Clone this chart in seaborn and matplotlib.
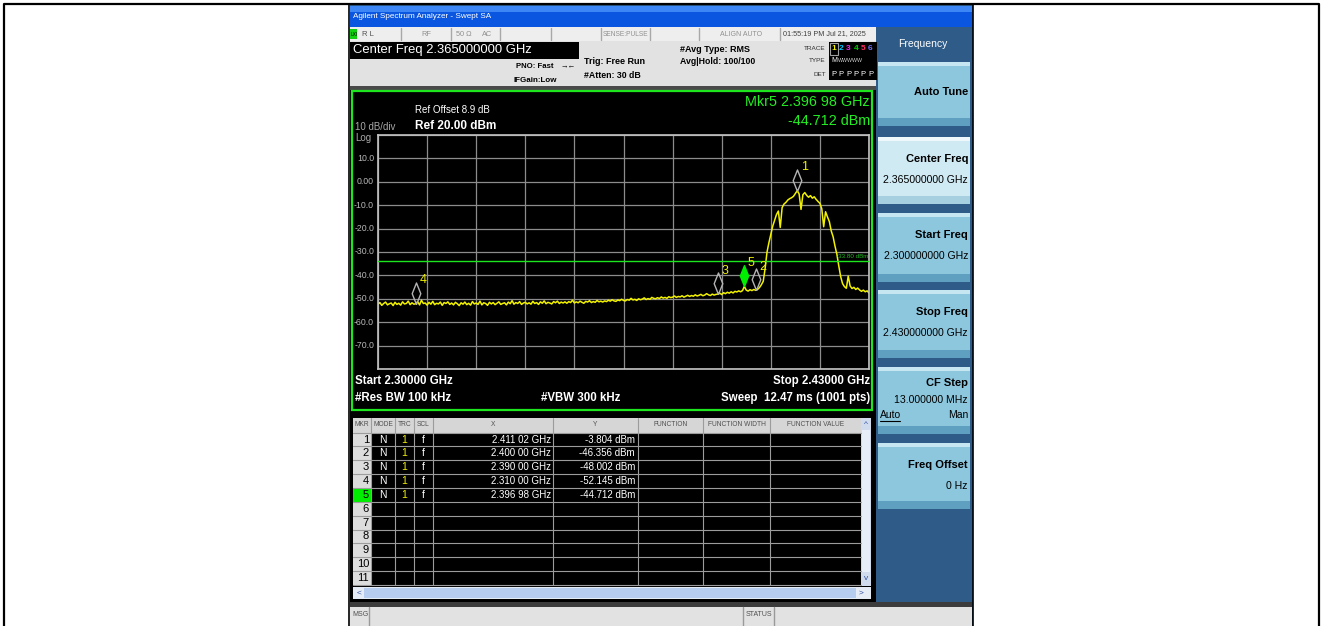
import numpy as np
import matplotlib.pyplot as plt
import seaborn as sns
from matplotlib.patches import Rectangle
from matplotlib.lines import Line2D

sns.set_style("dark")
plt.rcParams['font.family'] = ['Liberation Sans Narrow', 'Liberation Sans', 'DejaVu Sans']

W, H = 1325, 626

# =========================================================
# DATOS DEL BARRIDO
# =========================================================
f_start, f_stop = 2.300, 2.430      # GHz
ref_level = 20.0                    # dBm
db_div = 10.0
display_line = -33.80               # dBm

# traza (pasos de 0.5 MHz)
trace_dbm = [
    -52.3, -51.6, -52.8, -52.0, -51.4, -52.6, -52.1, -51.8, -52.9, -51.5, -52.4, -51.9, -52.7, -51.3, -52.2, -52.0, -51.0, -52.5, -51.7, -52.3,
    -52.1, -51.2, -52.6, -50.6, -52.0, -51.8, -52.7, -51.5, -52.3, -51.1, -52.5, -51.9, -52.2, -51.4, -52.8, -51.6, -52.0, -51.3, -52.4, -51.8,
    -52.6, -51.5, -52.1, -52.9, -51.7, -52.3, -51.4, -52.5, -51.9, -52.7, -51.2, -52.2, -51.8, -52.4, -51.0, -52.6, -51.7, -52.0, -52.8, -51.5,
    -52.2, -51.6, -52.5, -51.9, -51.3, -52.4, -52.0, -51.7, -52.6, -51.4, -52.1, -50.8, -52.3, -51.6, -52.0, -51.2, -52.4, -51.8, -51.5, -52.2,
    -51.7, -52.3, -51.1, -52.0, -51.6, -52.4, -51.3, -51.9, -50.9, -52.1, -51.5, -51.8, -52.2, -51.2, -51.7, -51.0, -52.0, -51.4, -51.8, -51.3,
    -51.9, -51.2, -51.6, -50.6, -51.8, -51.3, -51.7, -51.0, -51.5, -51.9, -51.1, -51.4, -50.8, -51.6, -51.2, -51.5, -50.7, -51.3, -51.0, -51.4,
    -50.9, -51.2, -50.6, -51.0, -50.4, -50.9, -51.1, -50.5, -50.8, -50.2, -50.7, -50.9, -50.3, -50.6, -49.8, -50.5, -50.2, -50.7, -50.0, -50.4,
    -50.1, -49.6, -50.3, -49.9, -50.2, -49.4, -49.8, -50.0, -49.5, -49.9, -49.2, -49.7, -49.4, -49.8, -49.1, -49.5, -49.3, -48.8, -49.4, -49.0,
    -49.2, -48.7, -49.3, -48.9, -48.5, -49.0, -48.6, -48.9, -48.3, -48.8, -48.5, -48.1, -48.7, -48.4, -47.8, -48.3, -48.6, -48.0, -48.4, -48.1,
    -48.0, -47.6, -48.2, -47.4, -47.8, -47.2, -47.6, -47.0, -47.5, -46.8, -47.1, -46.6, -47.0, -46.5, -44.7, -46.3, -46.7, -46.1, -46.5, -46.0,
    -46.4, -46.0, -45.2, -44.0, -42.5, -37.0, -30.0, -26.0, -22.5, -19.0, -16.5, -14.0, -12.5, -19.5, -11.0, -9.5, -8.8, -7.8, -7.2, -6.8,
    -6.2, -5.0, -3.8, -5.2, -11.8, -5.5, -4.6, -5.8, -6.6, -5.9, -7.0, -6.4, -7.5, -8.4, -9.2, -11.5, -19.2, -12.8, -15.0, -17.0,
    -21.0, -23.5, -27.5, -31.0, -36.0, -40.5, -43.5, -44.8, -45.5, -40.3, -44.5, -45.6, -45.1, -46.0, -45.4, -46.2, -46.8, -46.3, -47.0, -46.6,
    -47.5,
]

# marcadores
mkr_num = [1, 2, 3, 4, 5]
mkr_freq = [2.41102, 2.40000, 2.39000, 2.31000, 2.39698]   # GHz
mkr_dbm = [-3.804, -46.356, -48.002, -52.145, -44.712]
mkr_activo = 5

ytick_vals = [10, 0, -10, -20, -30, -40, -50, -60, -70]
ytick_txt = ['10.0', '0.00', '-10.0', '-20.0', '-30.0', '-40.0', '-50.0', '-60.0', '-70.0']

softkeys = [('Auto Tune', None), ('Center Freq', '2.365000000 GHz'), ('Start Freq', '2.300000000 GHz'),
            ('Stop Freq', '2.430000000 GHz'), ('CF Step', '13.000000 MHz'), ('Freq Offset', '0 Hz')]
softkey_y = [(62, 126), (137, 204), (213, 282), (290, 358), (367, 434), (443, 509)]


def fmt_ghz(f):
    s = f"{f:.5f}"
    return s[:5] + ' ' + s[5:]


fig = plt.figure(figsize=(W / 100, H / 100), dpi=100)
fig.patch.set_facecolor('white')


def px_rect(x0, y0, x1, y1, fc, ec='none', lw=0, z=1):
    fig.add_artist(Rectangle((x0 / W, 1 - y1 / H), (x1 - x0) / W, (y1 - y0) / H, transform=fig.transFigure,
                             facecolor=fc, edgecolor=ec, linewidth=lw, zorder=z))


def px_line(xs, ys, color, lw=1.0, z=2):
    fig.add_artist(Line2D([x / W for x in xs], [1 - y / H for y in ys], transform=fig.transFigure,
                          color=color, lw=lw, zorder=z))


def px_text(x, y, s, size=7, color='black', ha='left', weight='normal', z=5, **kw):
    fig.text(x / W, 1 - y / H, s, fontsize=size, color=color, ha=ha, va='center',
             fontweight=weight, zorder=z, **kw)


# --- marco exterior (celdas de tabla) ---
px_line([4, 4, 1319, 1319], [626, 4, 4, 626], 'black', lw=1.6, z=8)
px_line([349, 349], [4, 626], 'black', lw=1.2, z=8)
px_line([973, 973], [4, 626], 'black', lw=1.2, z=8)

# --- ventana del analizador ---
px_rect(350, 5, 973, 626, '#2e5b88')
px_rect(350, 6, 972, 27, '#0a56e0')
px_rect(350, 6, 972, 12, '#3c86f6')
px_text(353, 17, 'Agilent Spectrum Analyzer - Swept SA', size=5.9, color='white')

# fila de estado
px_rect(350, 27, 876, 41, '#eeeeee')
for xd in [401, 451, 500, 551, 601, 650, 699, 780]:
    px_line([xd, xd], [28, 40], '#a8a8a8')
px_rect(350, 29, 357, 39, '#10d010', z=2)
px_text(350.5, 34, 'LXI', size=3.5, color='black')
px_text(362, 34, 'R L', size=5.5, color='#505050')
px_text(426, 34, 'RF', size=5.3, color='#909090', ha='center')
px_text(456, 34, '50 Ω', size=5.3, color='#909090')
px_text(487, 34, 'AC', size=5.3, color='#909090', ha='center')
px_text(626, 34, 'SENSE:PULSE', size=4.8, color='#909090', ha='center')
px_text(741, 34, 'ALIGN AUTO', size=5.0, color='#909090', ha='center')
px_text(783, 34, '01:55:19 PM Jul 21, 2025', size=5.2, color='#404040')

# cabecera
px_rect(350, 41, 876, 87, '#e2e2e2')
px_rect(350, 42, 579, 59, 'black', z=2)
px_text(353, 50.5, f'Center Freq {(f_start + f_stop) / 2:.9f} GHz', size=9.4, color='white')
px_text(554, 67, 'PNO: Fast', size=5.6, weight='bold', ha='right')
px_text(560, 67, '→←', size=5.5)
px_text(557, 80, 'IFGain:Low', size=5.8, weight='bold', ha='right')
px_text(584, 62, 'Trig: Free Run', size=6.5, weight='bold')
px_text(584, 76, '#Atten: 30 dB', size=6.3, weight='bold')
px_text(680, 49, '#Avg Type: RMS', size=6.5, weight='bold')
px_text(680, 62, 'Avg|Hold: 100/100', size=6.3, weight='bold')
px_text(826, 48, 'TRACE', size=4.6, color='#303030', ha='right')
px_text(826, 61, 'TYPE', size=4.6, color='#303030', ha='right')
px_text(826, 74, 'DET', size=4.6, color='#303030', ha='right')
px_rect(829, 42, 877, 80, 'black', z=2)
px_rect(830, 43, 838, 55, 'none', ec='#a0a0a0', lw=0.8, z=3)
for i, c in enumerate(['#f0f000', '#00c8ff', '#ff20ff', '#00d000', '#ff3060', '#7070ff']):
    px_text(834 + i * 7.3, 49, str(i + 1), size=6, color=c, ha='center', weight='bold')
px_text(834, 61, 'M', size=5, color='white', ha='center')
px_text(838, 61, 'WWWWW', size=3.8, color='#d0d0d0')
for i in range(6):
    px_text(834 + i * 7.3, 74, 'P', size=5.5, color='white', ha='center')

# zona negra de traza + tabla
px_rect(350, 86, 876, 90, '#4a4a4a')
px_rect(350, 90, 876, 603, 'black')
px_rect(352, 91, 872, 410, 'none', ec='#1ee61e', lw=1.6, z=3)

px_text(415, 110, 'Ref Offset 8.9 dB', size=7, color='white')
px_text(415, 126, f'Ref {ref_level:.2f} dBm', size=8.5, color='white', weight='bold')
px_text(355, 127, f'{db_div:.0f} dB/div', size=7, color='#a8a8a8')
px_text(355, 138, 'Log', size=7, color='#a8a8a8')
i_act = mkr_num.index(mkr_activo)
px_text(870, 102, f'Mkr{mkr_activo} {fmt_ghz(mkr_freq[i_act])} GHz', size=10.4, color='#22ee22', ha='right')
px_text(870, 121, f'{mkr_dbm[i_act]:.3f} dBm', size=10.4, color='#22ee22', ha='right')
px_text(355, 381, f'Start {f_start:.5f} GHz', size=8.3, color='white', weight='bold')
px_text(870, 381, f'Stop {f_stop:.5f} GHz', size=8.3, color='white', weight='bold', ha='right')
px_text(355, 398, '#Res BW 100 kHz', size=8.3, color='white', weight='bold')
px_text(541, 398, '#VBW 300 kHz', size=8.3, color='white', weight='bold')
px_text(870, 398, 'Sweep  12.47 ms (1001 pts)', size=8.3, color='white', weight='bold', ha='right')

# =========================================================
# GRAFICO DE LA TRAZA
# =========================================================
ax = fig.add_axes([378 / W, 1 - 369 / H, (869 - 378) / W, (369 - 135) / H])
ax.set_zorder(10)
ax.set_facecolor('black')

freq = np.linspace(f_start, f_stop, len(trace_dbm))
sns.lineplot(x=freq, y=trace_dbm, ax=ax, color='#f2f200', lw=1.1)

ax.axhline(display_line, color='#1ee61e', lw=1.0, zorder=3)
ax.text(0.998, display_line + 0.7, f'{display_line:.2f} dBm', transform=ax.get_yaxis_transform(),
        ha='right', va='bottom', fontsize=4.5, color='#22bb22')

# marcadores: rombo con la punta inferior sobre la traza
rombo = [(0, 0), (0.2, 0.5), (0, 1), (-0.2, 0.5), (0, 0)]
for n, f, d in zip(mkr_num, mkr_freq, mkr_dbm):
    if n == mkr_activo:
        ax.plot(f, d, marker=rombo, ms=30, mfc='#00ee00', mec='#00ee00', ls='none', zorder=5)
    else:
        ax.plot(f, d, marker=rombo, ms=31, mfc='none', mec='#b4b4b4', mew=1.0, ls='none', zorder=5)
    ax.annotate(str(n), (f, d), xytext=(5, 17), textcoords='offset points', color='#f0f000',
                fontsize=9, ha='center', va='center', zorder=6)

ax.set_xlim(f_start, f_stop)
ax.set_ylim(ref_level - 10 * db_div, ref_level)
ax.set_xticks(np.linspace(f_start, f_stop, 11))
ax.set_yticks(np.arange(ref_level - 10 * db_div, ref_level + 1, db_div))
ax.grid(True, color='#8c8c8c', lw=0.9)
ax.tick_params(labelbottom=False, labelleft=False, length=0)
for sp in ax.spines.values():
    sp.set_color('#c4c4c4')
    sp.set_linewidth(1.2)
for v, t in zip(ytick_vals, ytick_txt):
    ax.text(-0.008, v, t, transform=ax.get_yaxis_transform(), ha='right', va='center',
            fontsize=6.3, color='#b8b8b8', clip_on=False)

# =========================================================
# TABLA DE MARCADORES
# =========================================================
col_x = [353, 371, 395, 414, 433, 553, 638, 703, 770, 861]
col_name = ['MKR', 'MODE', 'TRC', 'SCL', 'X', 'Y', 'FUNCTION', 'FUNCTION WIDTH', 'FUNCTION VALUE']
row_h = 13.85
row0 = 432.6
px_rect(353, 418, 861, row0, '#d6d6d6', z=2)
for i, name in enumerate(col_name):
    px_text((col_x[i] + col_x[i + 1]) / 2, 425, name, size=4.8, color='#505050', ha='center')
px_rect(353, row0, 371, row0 + 11 * row_h, '#dcdcdc', z=2)
for r in range(11):
    yc = row0 + r * row_h + row_h / 2
    if r + 1 == mkr_activo:
        px_rect(353, row0 + r * row_h, 371, row0 + (r + 1) * row_h, '#00ee00', z=2)
    px_text(369, yc, str(r + 1), size=8, color='black', ha='right')
    if r < len(mkr_num):
        px_text(383, yc, 'N', size=7.5, color='white', ha='center')
        px_text(404, yc, '1', size=7.5, color='#f0f000', ha='center')
        px_text(423, yc, 'f', size=7.5, color='white', ha='center')
        px_text(551, yc, f'{fmt_ghz(mkr_freq[r])} GHz', size=7, color='white', ha='right')
        px_text(635, yc, f'{mkr_dbm[r]:.3f} dBm', size=7, color='white', ha='right')
for r in range(12):
    px_line([353, 861], [row0 + r * row_h] * 2, '#9c9c9c', lw=0.8, z=3)
for xc in col_x[1:-1]:
    px_line([xc, xc], [418, row0 + 11 * row_h], '#9c9c9c', lw=0.8, z=3)

# barras de desplazamiento
px_rect(861, 418, 871, 586, '#d0dcee', z=2)
px_rect(862, 430, 870, 572, '#e8eef8', z=2)
px_text(866, 424, '^', size=6, color='#3050a0', ha='center')
px_text(866, 579, 'v', size=6, color='#3050a0', ha='center')
px_rect(353, 587, 871, 599, '#e6ecf6', z=2)
px_rect(364, 588, 856, 598, '#b6cdf0', z=2)
px_text(357, 593, '<', size=6, color='#3050a0')
px_text(859, 593, '>', size=6, color='#3050a0')

# barra de mensajes
px_rect(350, 602, 972, 607, '#3c3c3c', z=2)
px_rect(350, 607, 972, 626, '#e2e2e2', z=2)
px_line([369, 369], [607, 626], '#9a9a9a', z=3)
px_line([743, 743], [607, 626], '#9a9a9a', z=3)
px_line([774, 774], [607, 626], '#9a9a9a', z=3)
px_text(352, 614, 'MSG', size=5, color='#505050')
px_text(746, 614, 'STATUS', size=5, color='#505050')

# =========================================================
# PANEL DE SOFTKEYS
# =========================================================
px_text(923, 44, 'Frequency', size=7.5, color='white', ha='center')
for (titulo, valor), (y0, y1) in zip(softkeys, softkey_y):
    sel = titulo == 'Center Freq'
    px_rect(878, y0, 970, y1, '#d0eaf4' if sel else '#8cc7de', z=2)
    px_rect(878, y0, 970, y0 + 4, '#eef8fc' if sel else '#c6e6f2', z=2)
    px_rect(878, y1 - 8, 970, y1, '#a6cfe0' if sel else '#5f9fc0', z=2)
    if valor is None:
        px_text(968, (y0 + y1) / 2 - 2, titulo, size=8, weight='bold', ha='right')
    elif titulo == 'CF Step':
        px_text(968, y0 + 16, titulo, size=8, weight='bold', ha='right')
        px_text(968, y0 + 33, valor, size=7.6, ha='right')
    else:
        px_text(968, y0 + 22, titulo, size=8, weight='bold', ha='right')
        px_text(968, y0 + 43, valor, size=7.6, ha='right')
px_text(880, 415, 'Auto', size=7.5)
px_line([880, 900], [421, 421], 'black', lw=0.8, z=6)
px_text(968, 415, 'Man', size=7.5, ha='right')

plt.savefig('out.png', dpi=100, facecolor=fig.get_facecolor())
